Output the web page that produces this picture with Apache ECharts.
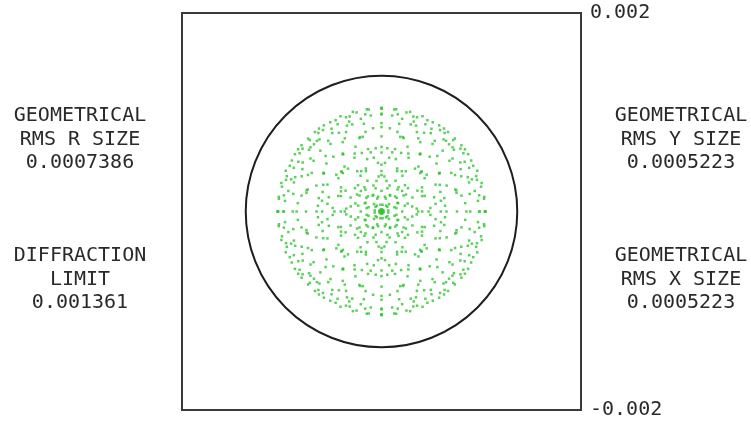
<!DOCTYPE html>
<html>
<head>
<meta charset="utf-8">
<script src="https://cdn.jsdelivr.net/npm/echarts@6/dist/echarts.min.js"></script>
<style>
  html, body { margin: 0; padding: 0; background: #ffffff; }
  #chart { width: 751px; height: 423px; }
</style>
</head>
<body>
<div id="chart"></div>
<script>
// Spot diagram: ray intercepts on the image plane, in units of 1e-5 (lens units)
const UNIT = 1e-5;
const spotPoints = [
  [0,0],
  // on-axis rows
  [20.8,0],[-20.8,0],[0,20.8],[0,-20.8],
  [40.8,0],[-40.8,0],[0,40.8],[0,-40.8],
  [59.4,0],[-59.4,0],[0,59.4],[0,-59.4],
  [75.7,0],[-75.7,0],[0,75.7],[0,-75.7],
  [89.0,0],[-89.0,0],[0,89.0],[0,-89.0],
  [98.6,0],[-98.6,0],[0,98.6],[0,-98.6],
  [103.8,0],[-103.8,0],[0,103.8],[0,-103.8],
  [103.6,0],[-103.6,0],[0,103.6],[0,-103.6],
  [97.8,0],[-97.8,0],[0,97.8],[0,-97.8],
  [85.1,0],[-85.1,0],[0,85.1],[0,-85.1],
  [65.1,0],[-65.1,0],[0,65.1],[0,-65.1],
  [36.8,0],[-36.8,0],[0,36.8],[0,-36.8],
  [0.4,0],[-0.4,0],[0,0.4],[0,-0.4],
  [47.2,0],[-47.2,0],[0,47.2],[0,-47.2],
  [104.5,0],[-104.5,0],[0,104.5],[0,-104.5],
  // diagonals
  [20.7,20.7],[-20.7,20.7],[20.7,-20.7],[-20.7,-20.7],
  [39.8,39.8],[-39.8,39.8],[39.8,-39.8],[-39.8,-39.8],
  [56.0,56.0],[-56.0,56.0],[56.0,-56.0],[-56.0,-56.0],
  [67.7,67.7],[-67.7,67.7],[67.7,-67.7],[-67.7,-67.7],
  [73.5,73.5],[-73.5,73.5],[73.5,-73.5],[-73.5,-73.5],
  [71.9,71.9],[-71.9,71.9],[71.9,-71.9],[-71.9,-71.9],
  [61.3,61.3],[-61.3,61.3],[61.3,-61.3],[-61.3,-61.3],
  [40.4,40.4],[-40.4,40.4],[40.4,-40.4],[-40.4,-40.4],
  [7.5,7.5],[-7.5,7.5],[7.5,-7.5],[-7.5,-7.5],
  [38.7,38.7],[-38.7,38.7],[38.7,-38.7],[-38.7,-38.7],
  // remaining intercepts
  [40.6,20.3],[-40.6,20.3],[40.6,-20.3],[-40.6,-20.3],[20.3,40.6],[-20.3,40.6],[20.3,-40.6],[-20.3,-40.6],
  [59.0,19.7],[-59.0,19.7],[59.0,-19.7],[-59.0,-19.7],[19.7,59.0],[-19.7,59.0],[19.7,-59.0],[-19.7,-59.0],
  [57.9,38.6],[-57.9,38.6],[57.9,-38.6],[-57.9,-38.6],[38.6,57.9],[-38.6,57.9],[38.6,-57.9],[-38.6,-57.9],
  [75.2,18.8],[-75.2,18.8],[75.2,-18.8],[-75.2,-18.8],[18.8,75.2],[-18.8,75.2],[18.8,-75.2],[-18.8,-75.2],
  [73.7,36.8],[-73.7,36.8],[73.7,-36.8],[-73.7,-36.8],[36.8,73.7],[-36.8,73.7],[36.8,-73.7],[-36.8,-73.7],
  [71.2,53.4],[-71.2,53.4],[71.2,-53.4],[-71.2,-53.4],[53.4,71.2],[-53.4,71.2],[53.4,-71.2],[-53.4,-71.2],
  [88.4,17.7],[-88.4,17.7],[88.4,-17.7],[-88.4,-17.7],[17.7,88.4],[-17.7,88.4],[17.7,-88.4],[-17.7,-88.4],
  [86.5,34.6],[-86.5,34.6],[86.5,-34.6],[-86.5,-34.6],[34.6,86.5],[-34.6,86.5],[34.6,-86.5],[-34.6,-86.5],
  [83.4,50.1],[-83.4,50.1],[83.4,-50.1],[-83.4,-50.1],[50.1,83.4],[-50.1,83.4],[50.1,-83.4],[-50.1,-83.4],
  [79.1,63.3],[-79.1,63.3],[79.1,-63.3],[-79.1,-63.3],[63.3,79.1],[-63.3,79.1],[63.3,-79.1],[-63.3,-79.1],
  [97.9,16.3],[-97.9,16.3],[97.9,-16.3],[-97.9,-16.3],[16.3,97.9],[-16.3,97.9],[16.3,-97.9],[-16.3,-97.9],
  [95.7,31.9],[-95.7,31.9],[95.7,-31.9],[-95.7,-31.9],[31.9,95.7],[-31.9,95.7],[31.9,-95.7],[-31.9,-95.7],
  [92.0,46.0],[-92.0,46.0],[92.0,-46.0],[-92.0,-46.0],[46.0,92.0],[-46.0,92.0],[46.0,-92.0],[-46.0,-92.0],
  [86.8,57.8],[-86.8,57.8],[86.8,-57.8],[-86.8,-57.8],[57.8,86.8],[-57.8,86.8],[57.8,-86.8],[-57.8,-86.8],
  [80.1,66.7],[-80.1,66.7],[80.1,-66.7],[-80.1,-66.7],[66.7,80.1],[-66.7,80.1],[66.7,-80.1],[-66.7,-80.1],
  [103.0,14.7],[-103.0,14.7],[103.0,-14.7],[-103.0,-14.7],[14.7,103.0],[-14.7,103.0],[14.7,-103.0],[-14.7,-103.0],
  [100.4,28.7],[-100.4,28.7],[100.4,-28.7],[-100.4,-28.7],[28.7,100.4],[-28.7,100.4],[28.7,-100.4],[-28.7,-100.4],
  [96.0,41.1],[-96.0,41.1],[96.0,-41.1],[-96.0,-41.1],[41.1,96.0],[-41.1,96.0],[41.1,-96.0],[-41.1,-96.0],
  [89.9,51.4],[-89.9,51.4],[89.9,-51.4],[-89.9,-51.4],[51.4,89.9],[-51.4,89.9],[51.4,-89.9],[-51.4,-89.9],
  [82.1,58.7],[-82.1,58.7],[82.1,-58.7],[-82.1,-58.7],[58.7,82.1],[-58.7,82.1],[58.7,-82.1],[-58.7,-82.1],
  [72.6,62.2],[-72.6,62.2],[72.6,-62.2],[-72.6,-62.2],[62.2,72.6],[-62.2,72.6],[62.2,-72.6],[-62.2,-72.6],
  [102.8,12.8],[-102.8,12.8],[102.8,-12.8],[-102.8,-12.8],[12.8,102.8],[-12.8,102.8],[12.8,-102.8],[-12.8,-102.8],
  [99.8,25.0],[-99.8,25.0],[99.8,-25.0],[-99.8,-25.0],[25.0,99.8],[-25.0,99.8],[25.0,-99.8],[-25.0,-99.8],
  [94.9,35.6],[-94.9,35.6],[94.9,-35.6],[-94.9,-35.6],[35.6,94.9],[-35.6,94.9],[35.6,-94.9],[-35.6,-94.9],
  [87.9,44.0],[-87.9,44.0],[87.9,-44.0],[-87.9,-44.0],[44.0,87.9],[-44.0,87.9],[44.0,-87.9],[-44.0,-87.9],
  [79.0,49.4],[-79.0,49.4],[79.0,-49.4],[-79.0,-49.4],[49.4,79.0],[-49.4,79.0],[49.4,-79.0],[-49.4,-79.0],
  [68.1,51.1],[-68.1,51.1],[68.1,-51.1],[-68.1,-51.1],[51.1,68.1],[-51.1,68.1],[51.1,-68.1],[-51.1,-68.1],
  [55.2,48.3],[-55.2,48.3],[55.2,-48.3],[-55.2,-48.3],[48.3,55.2],[-48.3,55.2],[48.3,-55.2],[-48.3,-55.2],
  [96.7,10.7],[-96.7,10.7],[96.7,-10.7],[-96.7,-10.7],[10.7,96.7],[-10.7,96.7],[10.7,-96.7],[-10.7,-96.7],
  [93.4,20.7],[-93.4,20.7],[93.4,-20.7],[-93.4,-20.7],[20.7,93.4],[-20.7,93.4],[20.7,-93.4],[-20.7,-93.4],
  [87.8,29.3],[-87.8,29.3],[87.8,-29.3],[-87.8,-29.3],[29.3,87.8],[-29.3,87.8],[29.3,-87.8],[-29.3,-87.8],
  [80.0,35.5],[-80.0,35.5],[80.0,-35.5],[-80.0,-35.5],[35.5,80.0],[-35.5,80.0],[35.5,-80.0],[-35.5,-80.0],
  [69.9,38.9],[-69.9,38.9],[69.9,-38.9],[-69.9,-38.9],[38.9,69.9],[-38.9,69.9],[38.9,-69.9],[-38.9,-69.9],
  [57.7,38.5],[-57.7,38.5],[57.7,-38.5],[-57.7,-38.5],[38.5,57.7],[-38.5,57.7],[38.5,-57.7],[-38.5,-57.7],
  [43.2,33.6],[-43.2,33.6],[43.2,-33.6],[-43.2,-33.6],[33.6,43.2],[-33.6,43.2],[33.6,-43.2],[-33.6,-43.2],
  [26.5,23.5],[-26.5,23.5],[26.5,-23.5],[-26.5,-23.5],[23.5,26.5],[-23.5,26.5],[23.5,-26.5],[-23.5,-26.5],
  [83.9,8.4],[-83.9,8.4],[83.9,-8.4],[-83.9,-8.4],[8.4,83.9],[-8.4,83.9],[8.4,-83.9],[-8.4,-83.9],
  [80.2,16.0],[-80.2,16.0],[80.2,-16.0],[-80.2,-16.0],[16.0,80.2],[-16.0,80.2],[16.0,-80.2],[-16.0,-80.2],
  [74.0,22.2],[-74.0,22.2],[74.0,-22.2],[-74.0,-22.2],[22.2,74.0],[-22.2,74.0],[22.2,-74.0],[-22.2,-74.0],
  [65.3,26.1],[-65.3,26.1],[65.3,-26.1],[-65.3,-26.1],[26.1,65.3],[-26.1,65.3],[26.1,-65.3],[-26.1,-65.3],
  [54.2,27.1],[-54.2,27.1],[54.2,-27.1],[-54.2,-27.1],[27.1,54.2],[-27.1,54.2],[27.1,-54.2],[-27.1,-54.2],
  [40.6,24.3],[-40.6,24.3],[40.6,-24.3],[-40.6,-24.3],[24.3,40.6],[-24.3,40.6],[24.3,-40.6],[-24.3,-40.6],
  [24.5,17.1],[-24.5,17.1],[24.5,-17.1],[-24.5,-17.1],[17.1,24.5],[-17.1,24.5],[17.1,-24.5],[-17.1,-24.5],
  [5.9,4.7],[-5.9,4.7],[5.9,-4.7],[-5.9,-4.7],[4.7,5.9],[-4.7,5.9],[4.7,-5.9],[-4.7,-5.9],
  [15.2,13.7],[-15.2,13.7],[15.2,-13.7],[-15.2,-13.7],[13.7,15.2],[-13.7,15.2],[13.7,-15.2],[-13.7,-15.2],
  [63.7,5.8],[-63.7,5.8],[63.7,-5.8],[-63.7,-5.8],[5.8,63.7],[-5.8,63.7],[5.8,-63.7],[-5.8,-63.7],
  [59.6,10.8],[-59.6,10.8],[59.6,-10.8],[-59.6,-10.8],[10.8,59.6],[-10.8,59.6],[10.8,-59.6],[-10.8,-59.6],
  [52.8,14.4],[-52.8,14.4],[52.8,-14.4],[-52.8,-14.4],[14.4,52.8],[-14.4,52.8],[14.4,-52.8],[-14.4,-52.8],
  [43.3,15.7],[-43.3,15.7],[43.3,-15.7],[-43.3,-15.7],[15.7,43.3],[-15.7,43.3],[15.7,-43.3],[-15.7,-43.3],
  [31.0,14.1],[-31.0,14.1],[31.0,-14.1],[-31.0,-14.1],[14.1,31.0],[-14.1,31.0],[14.1,-31.0],[-14.1,-31.0],
  [16.0,8.7],[-16.0,8.7],[16.0,-8.7],[-16.0,-8.7],[8.7,16.0],[-8.7,16.0],[8.7,-16.0],[-8.7,-16.0],
  [1.7,1.1],[-1.7,1.1],[1.7,-1.1],[-1.7,-1.1],[1.1,1.7],[-1.1,1.7],[1.1,-1.7],[-1.1,-1.7],
  [22.1,16.1],[-22.1,16.1],[22.1,-16.1],[-22.1,-16.1],[16.1,22.1],[-16.1,22.1],[16.1,-22.1],[-16.1,-22.1],
  [45.3,37.1],[-45.3,37.1],[45.3,-37.1],[-45.3,-37.1],[37.1,45.3],[-37.1,45.3],[37.1,-45.3],[-37.1,-45.3],
  [71.2,64.7],[-71.2,64.7],[71.2,-64.7],[-71.2,-64.7],[64.7,71.2],[-64.7,71.2],[64.7,-71.2],[-64.7,-71.2],
  [35.3,2.9],[-35.3,2.9],[35.3,-2.9],[-35.3,-2.9],[2.9,35.3],[-2.9,35.3],[2.9,-35.3],[-2.9,-35.3],
  [30.8,5.1],[-30.8,5.1],[30.8,-5.1],[-30.8,-5.1],[5.1,30.8],[-5.1,30.8],[5.1,-30.8],[-5.1,-30.8],
  [23.4,5.9],[-23.4,5.9],[23.4,-5.9],[-23.4,-5.9],[5.9,23.4],[-5.9,23.4],[5.9,-23.4],[-5.9,-23.4],
  [13.0,4.3],[-13.0,4.3],[13.0,-4.3],[-13.0,-4.3],[4.3,13.0],[-4.3,13.0],[4.3,-13.0],[-4.3,-13.0],
  [0.4,0.2],[-0.4,0.2],[0.4,-0.2],[-0.4,-0.2],[0.2,0.4],[-0.2,0.4],[0.2,-0.4],[-0.2,-0.4],
  [16.7,8.4],[-16.7,8.4],[16.7,-8.4],[-16.7,-8.4],[8.4,16.7],[-8.4,16.7],[8.4,-16.7],[-8.4,-16.7],
  [36.0,21.0],[-36.0,21.0],[36.0,-21.0],[-36.0,-21.0],[21.0,36.0],[-21.0,36.0],[21.0,-36.0],[-21.0,-36.0],
  [58.3,38.9],[-58.3,38.9],[58.3,-38.9],[-58.3,-38.9],[38.9,58.3],[-38.9,58.3],[38.9,-58.3],[-38.9,-58.3],
  [83.6,62.7],[-83.6,62.7],[83.6,-62.7],[-83.6,-62.7],[62.7,83.6],[-62.7,83.6],[62.7,-83.6],[-62.7,-83.6],
  [2.0,0.2],[-2.0,0.2],[2.0,-0.2],[-2.0,-0.2],[0.2,2.0],[-0.2,2.0],[0.2,-2.0],[-0.2,-2.0],
  [6.8,1.1],[-6.8,1.1],[6.8,-1.1],[-6.8,-1.1],[1.1,6.8],[-1.1,6.8],[1.1,-6.8],[-1.1,-6.8],
  [14.9,3.4],[-14.9,3.4],[14.9,-3.4],[-14.9,-3.4],[3.4,14.9],[-3.4,14.9],[3.4,-14.9],[-3.4,-14.9],
  [26.2,8.1],[-26.2,8.1],[26.2,-8.1],[-26.2,-8.1],[8.1,26.2],[-8.1,26.2],[8.1,-26.2],[-8.1,-26.2],
  [40.7,15.6],[-40.7,15.6],[40.7,-15.6],[-40.7,-15.6],[15.6,40.7],[-15.6,40.7],[15.6,-40.7],[-15.6,-40.7],
  [58.4,26.9],[-58.4,26.9],[58.4,-26.9],[-58.4,-26.9],[26.9,58.4],[-26.9,58.4],[26.9,-58.4],[-26.9,-58.4],
  [79.3,42.7],[-79.3,42.7],[79.3,-42.7],[-79.3,-42.7],[42.7,79.3],[-42.7,79.3],[42.7,-79.3],[-42.7,-79.3],
  [49.0,3.5],[-49.0,3.5],[49.0,-3.5],[-49.0,-3.5],[3.5,49.0],[-3.5,49.0],[3.5,-49.0],[-3.5,-49.0],
  [54.2,7.7],[-54.2,7.7],[54.2,-7.7],[-54.2,-7.7],[7.7,54.2],[-7.7,54.2],[7.7,-54.2],[-7.7,-54.2],
  [62.9,13.5],[-62.9,13.5],[62.9,-13.5],[-62.9,-13.5],[13.5,62.9],[-13.5,62.9],[13.5,-62.9],[-13.5,-62.9],
  [75.0,21.4],[-75.0,21.4],[75.0,-21.4],[-75.0,-21.4],[21.4,75.0],[-21.4,75.0],[21.4,-75.0],[-21.4,-75.0],
  [90.6,32.4],[-90.6,32.4],[90.6,-32.4],[-90.6,-32.4],[32.4,90.6],[-32.4,90.6],[32.4,-90.6],[-32.4,-90.6]
];

// Plot scale (both axes)
const axisMin = -0.002;
const axisMax = 0.002;
const axisStep = 0.002;

// Diffraction-limited Airy radius and RMS statistics
const diffractionLimit = 0.001361;
const rmsR = '0.0007386';
const rmsY = '0.0005223';
const rmsX = '0.0005223';

const leftTexts = [
  ['GEOMETRICAL', 'RMS R SIZE', rmsR],
  ['DIFFRACTION', 'LIMIT', String(diffractionLimit)]
];
const rightTexts = [
  ['GEOMETRICAL', 'RMS Y SIZE', rmsY],
  ['GEOMETRICAL', 'RMS X SIZE', rmsX]
];

const FONT = '"DejaVu Sans Mono", "Liberation Mono", monospace';
const TEXT_COLOR = '#2a2a2a';

function textBlocks(blocks, cx) {
  const els = [];
  const tops = [116, 256];
  const step = 23.5;
  blocks.forEach((lines, b) => {
    lines.forEach((t, k) => {
      els.push({
        type: 'text',
        x: cx,
        y: tops[b] + k * step,
        style: {
          text: t,
          align: 'center',
          verticalAlign: 'middle',
          fontSize: 20,
          fontFamily: FONT,
          fill: TEXT_COLOR
        },
        silent: true
      });
    });
  });
  return els;
}

const chart = echarts.init(document.getElementById('chart'), null, { renderer: 'canvas' });

chart.setOption({
  animation: false,
  backgroundColor: '#ffffff',
  grid: {
    left: 182, top: 13, width: 399, height: 397,
    show: true,
    borderColor: '#3a3a3a',
    borderWidth: 2,
    backgroundColor: 'transparent'
  },
  xAxis: {
    type: 'value',
    min: axisMin, max: axisMax, interval: axisStep,
    axisLine: { show: false },
    axisTick: { show: false },
    axisLabel: { show: false },
    splitLine: { show: false }
  },
  yAxis: {
    type: 'value',
    position: 'right',
    min: axisMin, max: axisMax, interval: axisStep,
    axisLine: { show: false },
    axisTick: { show: false },
    splitLine: { show: false },
    axisLabel: {
      show: true,
      margin: 9,
      fontSize: 20,
      fontFamily: FONT,
      color: TEXT_COLOR,
      formatter: v => (Math.abs(v) < 1e-9 ? '' : v.toFixed(3))
    }
  },
  graphic: textBlocks(leftTexts, 80).concat(textBlocks(rightTexts, 681)),
  series: [
    {
      type: 'custom',
      name: 'Airy disk',
      silent: true,
      clip: false,
      z: 3,
      data: [[0, 0, diffractionLimit]],
      encode: { x: 0, y: 1 },
      renderItem: function (params, api) {
        const c = api.coord([api.value(0), api.value(1)]);
        const r = api.size([api.value(2), 0])[0];
        return {
          type: 'circle',
          shape: { cx: c[0], cy: c[1], r: r },
          style: { fill: null, stroke: '#1e1e1e', lineWidth: 2 }
        };
      }
    },
    {
      type: 'scatter',
      name: 'Spot',
      silent: true,
      symbol: 'rect',
      symbolSize: 2.5,
      z: 4,
      itemStyle: { color: '#33c433' },
      data: spotPoints.map(p => [p[0] * UNIT, p[1] * UNIT])
    }
  ]
});
</script>
</body>
</html>
